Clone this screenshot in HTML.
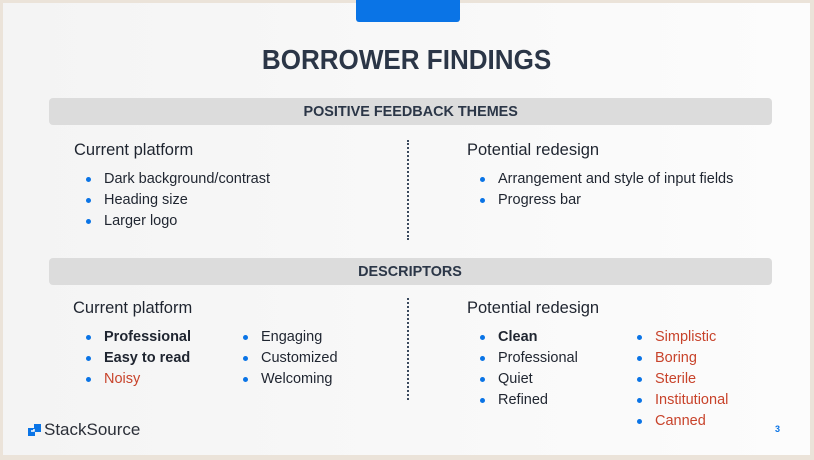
<!DOCTYPE html>
<html><head><meta charset="utf-8"><style>
body{margin:0;width:814px;height:460px;background:#ebe3d9;position:relative;overflow:hidden;font-family:"Liberation Sans",sans-serif}
.slide{position:absolute;left:3px;top:3px;width:807px;height:452px;background:linear-gradient(90deg,#f4f4f4,#fcfcfc)}
.t{position:absolute;white-space:nowrap;line-height:1}
.tab{position:absolute;left:356px;top:0;width:104px;height:22px;background:#0a74e6;border-radius:0 0 3px 3px}
.bar{position:absolute;left:49px;width:723px;height:27px;background:#dcdcdc;border-radius:4px;color:#2b3647;font-weight:bold;font-size:15px;text-align:center;line-height:27px}
.bar span{display:inline-block;transform:scaleX(0.96)}
.h{position:absolute;font-size:16.5px;color:#1f2530;line-height:1}
.b{position:absolute;font-size:14.5px;color:#1f2530;line-height:1;white-space:nowrap}
.b:before{content:"";position:absolute;left:-18px;top:5px;width:5px;height:5px;border-radius:50%;background:#0a74e6}
.r{color:#c8432b}.k{font-weight:bold}
.dot{position:absolute;left:407px;width:0;border-left:2px dotted #3b4a5e}
</style></head><body>
<div class="slide"></div>
<div class="tab"></div>
<div class="t" style="left:0;width:814px;text-align:center;top:46px;font-size:28px;font-weight:bold;color:#2b3647"><span style="display:inline-block;transform:scaleX(0.93)">BORROWER FINDINGS</span></div>
<div class="bar" style="top:98px"><span>POSITIVE FEEDBACK THEMES</span></div>
<div class="bar" style="top:258px"><span>DESCRIPTORS</span></div>
<div class="dot" style="top:140px;height:100px"></div>
<div class="dot" style="top:298px;height:102px"></div>
<div class="h" style="left:74px;top:142px">Current platform</div>
<div class="h" style="left:467px;top:142px">Potential redesign</div>
<div class="b" style="left:104px;top:172px">Dark background/contrast</div>
<div class="b" style="left:104px;top:193px">Heading size</div>
<div class="b" style="left:104px;top:214px">Larger logo</div>
<div class="b" style="left:498px;top:172px">Arrangement and style of input fields</div>
<div class="b" style="left:498px;top:193px">Progress bar</div>
<div class="h" style="left:73px;top:300px">Current platform</div>
<div class="h" style="left:467px;top:300px">Potential redesign</div>
<div class="b k" style="left:104px;top:330px">Professional</div>
<div class="b k" style="left:104px;top:351px">Easy to read</div>
<div class="b r" style="left:104px;top:372px">Noisy</div>
<div class="b" style="left:261px;top:330px">Engaging</div>
<div class="b" style="left:261px;top:351px">Customized</div>
<div class="b" style="left:261px;top:372px">Welcoming</div>
<div class="b k" style="left:498px;top:330px">Clean</div>
<div class="b" style="left:498px;top:351px">Professional</div>
<div class="b" style="left:498px;top:372px">Quiet</div>
<div class="b" style="left:498px;top:393px">Refined</div>
<div class="b r" style="left:655px;top:330px">Simplistic</div>
<div class="b r" style="left:655px;top:351px">Boring</div>
<div class="b r" style="left:655px;top:372px">Sterile</div>
<div class="b r" style="left:655px;top:393px">Institutional</div>
<div class="b r" style="left:655px;top:414px">Canned</div>
<div class="t" style="left:775px;top:425px;font-size:9px;font-weight:bold;color:#0a74e6">3</div>
<svg style="position:absolute;left:27px;top:423px" width="15" height="14"><path d="M1 5h6V1h7v8H8v4H1z" fill="#0a74e6"/><path d="M4 8h3V6" stroke="#fff" stroke-width="1.5" fill="none"/></svg>
<div class="t" style="left:44px;top:421px;font-size:17px;color:#2b2f38">StackSource</div>
</body></html>
